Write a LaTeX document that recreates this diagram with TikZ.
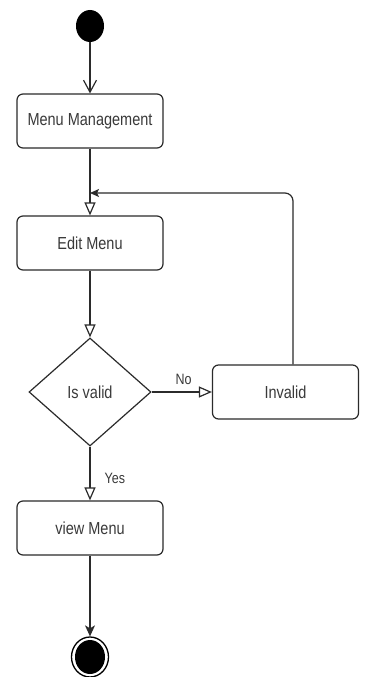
\documentclass[tikz,border=0pt]{standalone}
\usepackage{fontspec}
\setmainfont{Liberation Sans}
\usetikzlibrary{arrows.meta,shapes.geometric}
\definecolor{ink}{HTML}{2B2B2B}
\definecolor{txt}{HTML}{3A3A3A}
\newcommand\tallText[1]{\scalebox{1}[1.2]{#1}}
\tikzset{
  action/.style={draw=ink, line width=1.2pt, rounded corners=6pt, fill=white,
    minimum width=146pt, minimum height=54pt, inner sep=0pt,
    text=txt, font=\fontsize{14.5}{17}\selectfont},
  decision/.style={draw=ink, line width=1.2pt, diamond, fill=white,
    minimum width=122pt, minimum height=108pt, inner sep=0pt,
    text=txt, font=\fontsize{14.5}{17}\selectfont},
  flow/.style={draw=ink, line width=1.2pt,
    -{Triangle[open, length=13pt, width=11pt, line width=1.2pt]}},
  guard/.style={text=txt, font=\fontsize{12.5}{15}\selectfont, inner sep=0pt}
}
\begin{document}
\begin{tikzpicture}[x=1pt, y=-1pt]
  \useasboundingbox (0,0) rectangle (367,677);
  \fill[white] (0,0) rectangle (367,677);

  % initial state
  \node[ellipse, fill=black, minimum width=28pt, minimum height=32pt, inner sep=0pt] (start) at (90,26) {};

  % activities
  \node[action] (mm) at (90,121) {\tallText{Menu Management}};
  \node[action] (edit) at (90,243) {\tallText{Edit Menu}};
  \node[decision] (valid) at (90,392) {\tallText{Is valid}};
  \node[action] (invalid) at (285.5,392) {\tallText{Invalid}};
  \node[action] (view) at (90,528) {\tallText{view Menu}};

  % final state
  \node[ellipse, draw=black, line width=1.3pt, fill=white, minimum width=37pt, minimum height=40pt, inner sep=0pt] (stop) at (90,657) {};
  \node[ellipse, fill=black, minimum width=30pt, minimum height=34pt, inner sep=0pt] (stopdot) at (90,657) {};

  % loop-back junction above Edit Menu
  \coordinate (join) at (90,193);
  \coordinate (loopup) at (293,193);

  % transitions
  \draw[draw=ink, line width=1.2pt, -{Straight Barb[length=12pt, width=13pt, line width=1.2pt]}] (start) -- (mm);
  \draw[flow] (mm) -- (edit);
  \draw[flow] (edit) -- (valid);
  \draw[flow] (valid) -- node[guard, above=7pt, pos=0.53] {\tallText{No}} (invalid);
  \draw[flow] (valid) -- node[guard, right=14pt, pos=0.6] {\tallText{Yes}} (view);
  \draw[draw=ink, line width=1.2pt, rounded corners=8pt,
        -{Stealth[length=9pt, width=8pt, inset=2pt]}]
        (invalid.north -| loopup) -- (loopup) -- (join);
  \draw[draw=ink, line width=1.2pt, -{Stealth[length=11pt, width=10pt, inset=3pt]}] (view) -- (stop);
\end{tikzpicture}
\end{document}
